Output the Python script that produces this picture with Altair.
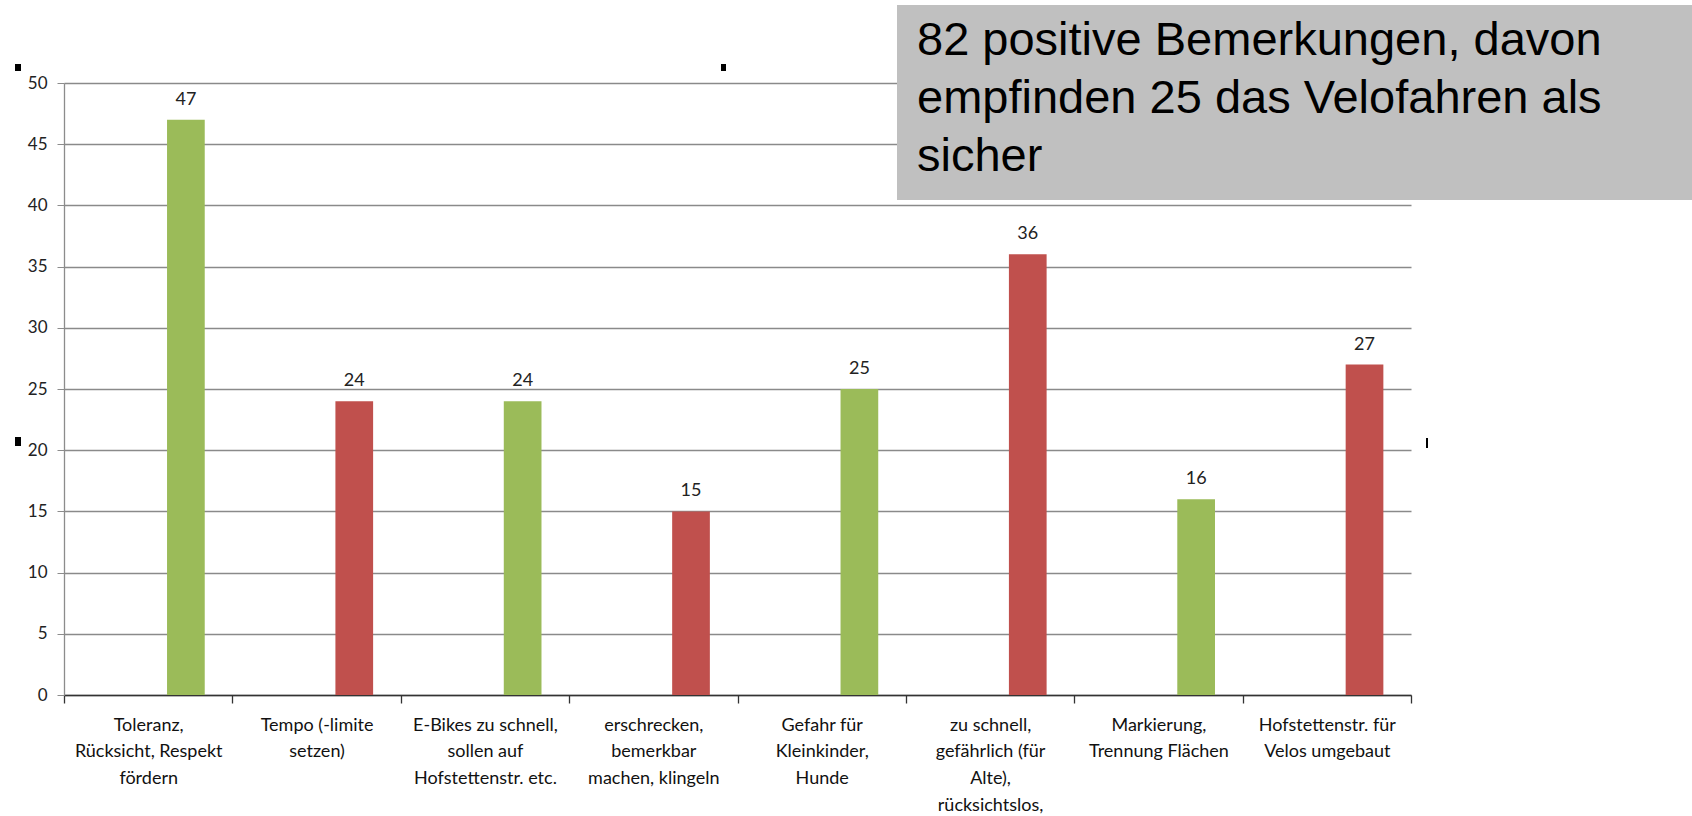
import altair as alt
import pandas as pd

# Survey remarks on cycling, counted per topic
categories = [
    "Toleranz,\nRücksicht, Respekt\nfördern",
    "Tempo (-limite\nsetzen)",
    "E-Bikes zu schnell,\nsollen auf\nHofstettenstr. etc.",
    "erschrecken,\nbemerkbar\nmachen, klingeln",
    "Gefahr für\nKleinkinder,\nHunde",
    "zu schnell,\ngefährlich (für\nAlte),\nrücksichtslos,",
    "Markierung,\nTrennung Flächen",
    "Hofstettenstr. für\nVelos umgebaut",
]
counts = [47, 24, 24, 15, 25, 36, 16, 27]
groups = ["grün", "rot", "grün", "rot", "grün", "rot", "grün", "rot"]
group_colors = ["#9BBB59", "#C0504D"]

note_text = "82 positive Bemerkungen, davon\nempfinden 25 das Velofahren als\nsicher"

y_ticks = list(range(0, 51, 5))

df = pd.DataFrame({"Kategorie": categories, "Anzahl": counts, "Gruppe": groups})
# every bar sits in the third slot of a three-slot cluster
df["Slot"] = "3"

W, H = 1347, 612
LABEL_FONT = "Lato"

x_enc = alt.X(
    "Kategorie:N",
    sort=None,
    scale=alt.Scale(paddingInner=0, paddingOuter=0),
    axis=alt.Axis(
        title=None,
        tickBand="extent",
        labelAngle=0,
        labelExpr="datum.value ? split(datum.value, '\\n') : ''",
        labelLineHeight=26.7,
        labelFont=LABEL_FONT,
        labelFontSize=18,
        labelColor="#111111",
        labelPadding=13,
        labelBaseline="top",
        labelLimit=0,
        tickSize=8,
        tickColor="#333333",
        tickWidth=1.3,
        domainColor="#333333",
        domainWidth=1.6,
        grid=False,
    ),
)
xoff_enc = alt.XOffset(
    "Slot:N",
    scale=alt.Scale(domain=["1", "2", "3"], paddingOuter=0.733, paddingInner=0),
)
y_enc = alt.Y(
    "Anzahl:Q",
    scale=alt.Scale(domain=[0, 50], nice=False),
    axis=alt.Axis(
        title=None,
        values=y_ticks,
        tickSize=7,
        tickColor="#8c8c8c",
        domainColor="#8c8c8c",
        domainWidth=1.3,
        gridColor="#8a8a8a",
        gridWidth=1.4,
        labelFont=LABEL_FONT,
        labelFontSize=17,
        labelColor="#222222",
        labelPadding=10,
    ),
)

bars = alt.Chart(df).mark_bar().encode(
    x=x_enc,
    xOffset=xoff_enc,
    y=y_enc,
    color=alt.Color(
        "Gruppe:N",
        scale=alt.Scale(domain=["grün", "rot"], range=group_colors),
        legend=None,
    ),
)

values = alt.Chart(df).mark_text(
    dy=-15, baseline="alphabetic", font=LABEL_FONT, fontSize=18, color="#222222"
).encode(x=x_enc, xOffset=xoff_enc, y=y_enc, text="Anzahl:Q")

note_df = pd.DataFrame({"note": [note_text]})
note_box = alt.Chart(note_df).mark_rect(color="#c0c0c0").encode(
    x=alt.value(833), x2=alt.value(1628), y=alt.value(-78), y2=alt.value(117)
)
note = alt.Chart(note_df).mark_text(
    align="left",
    baseline="alphabetic",
    lineBreak="\n",
    lineHeight=58,
    font="Liberation Sans",
    fontSize=47,
    color="#000000",
).encode(x=alt.value(853), y=alt.value(-28), text="note:N")


def handle(x0, x1, y0, y1):
    # small black selection marker around the chart frame
    return alt.Chart(note_df).mark_rect(color="#000000").encode(
        x=alt.value(x0), x2=alt.value(x1), y=alt.value(y0), y2=alt.value(y1)
    )


handles = [
    handle(-49, -43, -19, -12),
    handle(657, 662, -19, -12),
    handle(-49, -43, 354, 363),
    handle(1362, 1364, 355, 365),
]

chart = (
    alt.layer(bars, values, note_box, note, *handles)
    .properties(
        width=W,
        height=H,
        padding={"left": 64, "top": 83, "right": 281, "bottom": 121},
        autosize=alt.AutoSizeParams(type="none"),
        background="#ffffff",
    )
    .configure_view(stroke=None)
)

chart.save("out.html", embed_options={"renderer": "svg", "actions": False})
